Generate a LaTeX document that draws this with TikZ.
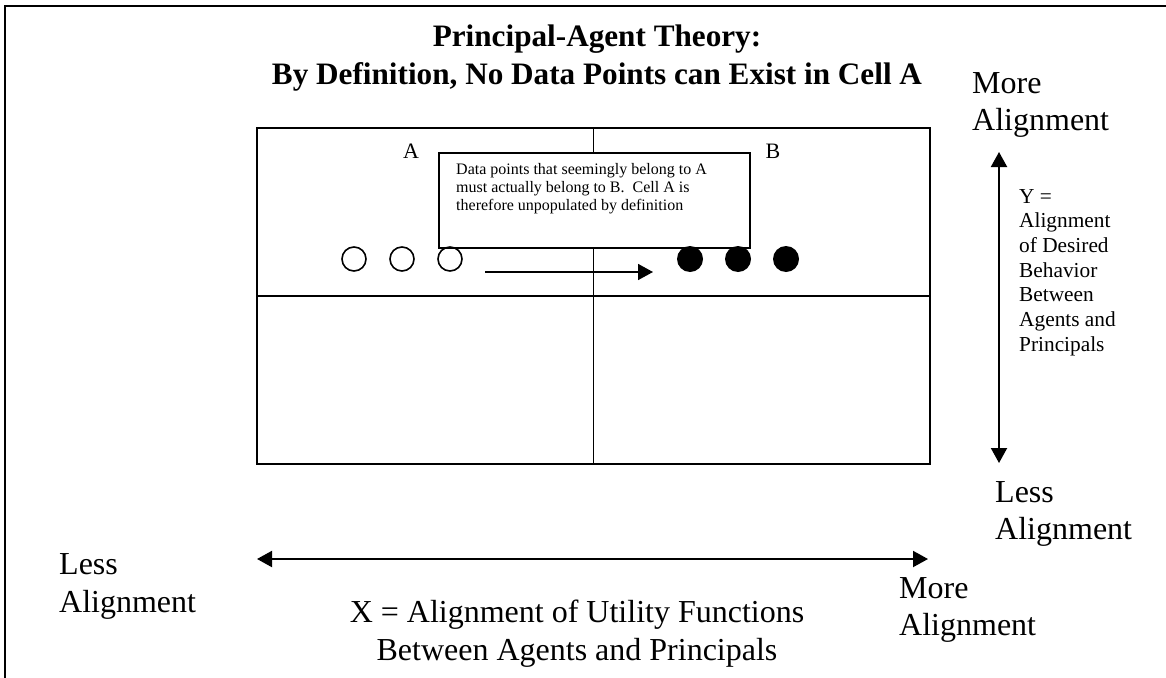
\documentclass[tikz,border=0pt]{standalone}
\usepackage{fontspec}
\setmainfont{Liberation Serif}
\usetikzlibrary{arrows.meta}
\begin{document}
\begin{tikzpicture}[x=1pt,y=-1pt,
  ttl/.style={font=\bfseries\fontsize{31.2}{36.8}\selectfont, inner sep=0pt, anchor=base},
  bigl/.style={font=\fontsize{32}{36.8}\selectfont, inner sep=0pt, anchor=base west},
  bigc/.style={font=\fontsize{32}{36.8}\selectfont, inner sep=0pt, anchor=base},
  ytxt/.style={font=\fontsize{21.33}{24.5}\selectfont, inner sep=0pt, anchor=base west},
  notetxt/.style={font=\fontsize{16}{18.4}\selectfont, inner sep=0pt, anchor=base west},
  celltxt/.style={font=\fontsize{22}{24}\selectfont, inner sep=0pt, anchor=base},
  thin/.style={line width=1.5pt},
  opendot/.style={circle, draw, line width=1.6pt, minimum size=24pt, inner sep=0pt},
  fulldot/.style={circle, fill=black, minimum size=26pt, inner sep=0pt},
  axis/.style={line width=2pt, {Triangle[length=15pt,width=16pt]}-{Triangle[length=15pt,width=16pt]}},
  move/.style={line width=1.6pt, -{Triangle[length=15pt,width=16pt]}}
]
\useasboundingbox (0,0) rectangle (1166,677);
\clip (0,0) rectangle (1166,677);
% outer frame
\draw[thin] (5,6) rectangle (1190,700);

% title
\node[ttl] (t1) at (597,47) {Principal-Agent Theory:};
\node[ttl] (t2) at (597,84) {By Definition, No Data Points can Exist in Cell A};

% grid
\node[draw, thin, minimum width=673pt, minimum height=336pt, inner sep=0pt, anchor=north west] (grid) at (256,127) {};
\draw[thin] (grid.north) -- (grid.south);
\draw[thin] (grid.west) -- (grid.east);

% cell labels
\node[celltxt] (cA) at (411,158) {A};
\node[celltxt] (cB) at (773,158) {B};

% note box
\node[draw, fill=white, thin, minimum width=311pt, minimum height=95pt, inner sep=0pt, anchor=north west] (note) at (438,152) {};
\node[notetxt] (n1) at (456,174) {Data points that seemingly belong to A};
\node[notetxt] (n2) at (456,192.4) {must actually belong to B.\ \ Cell A is};
\node[notetxt] (n3) at (456,210.8) {therefore unpopulated by definition};

% data points
\node[opendot] (o1) at (354,259) {};
\node[opendot] (o2) at (402,259) {};
\node[opendot] (o3) at (450,259) {};
\node[fulldot] (f1) at (690,259) {};
\node[fulldot] (f2) at (738,259) {};
\node[fulldot] (f3) at (786,259) {};
\coordinate (ms) at (485,272);
\coordinate (me) at (653,272);
\draw[move] (ms) -- (me);

% Y axis
\coordinate (ytop) at (999,152);
\coordinate (ybot) at (999,463);
\draw[axis] (ytop) -- (ybot);
\node[bigl] (ym1) at (972,93) {More};
\node[bigl] (ym2) at (972,130) {Alignment};
\node[bigl] (yl1) at (995,502) {Less};
\node[bigl] (yl2) at (995,539) {Alignment};
\node[ytxt] (y1) at (1019,203) {Y =};
\node[ytxt] (y2) at (1019,227.7) {Alignment};
\node[ytxt] (y3) at (1019,252.4) {of Desired};
\node[ytxt] (y4) at (1019,277.1) {Behavior};
\node[ytxt] (y5) at (1019,301.8) {Between};
\node[ytxt] (y6) at (1019,326.5) {Agents and};
\node[ytxt] (y7) at (1019,351.2) {Principals};

% X axis
\coordinate (xl) at (257,559);
\coordinate (xr) at (928,559);
\draw[axis] (xl) -- (xr);
\node[bigl] (xl1) at (59,574) {Less};
\node[bigl] (xl2) at (59,612) {Alignment};
\node[bigl] (xm1) at (899,598) {More};
\node[bigl] (xm2) at (899,635) {Alignment};
\node[bigc] (x1) at (577,622) {X = Alignment of Utility Functions};
\node[bigc] (x2) at (577,660) {Between Agents and Principals};
\end{tikzpicture}
\end{document}
